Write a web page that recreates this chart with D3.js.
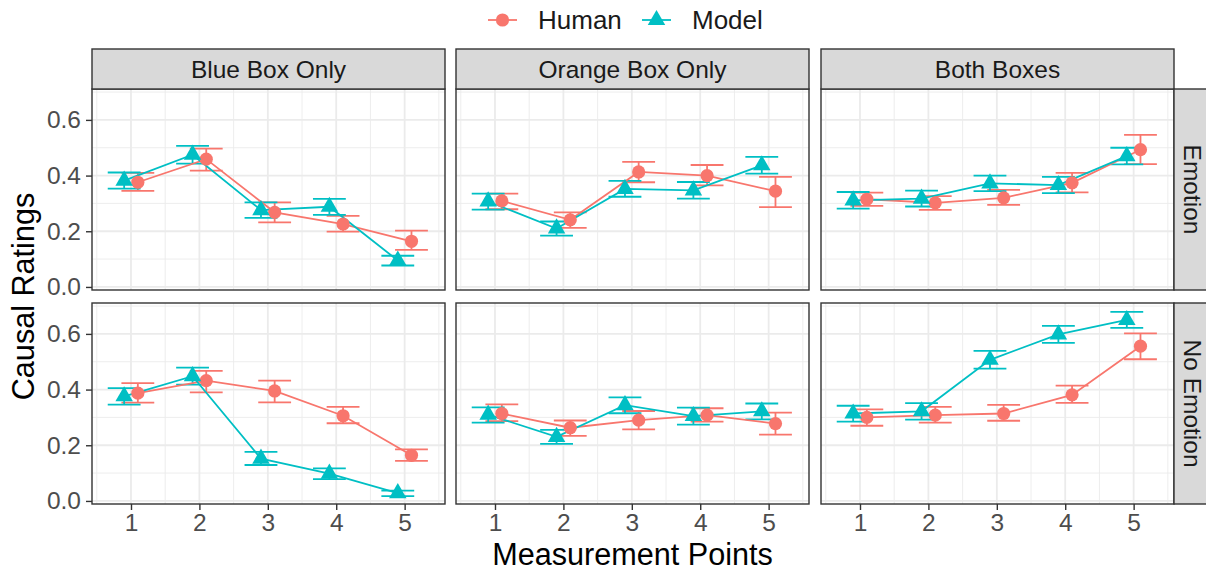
<!DOCTYPE html>
<meta charset="utf-8">
<html>

<head>
    <script src="https://d3js.org/d3.v7.min.js"></script>
    <style>
        body { margin: 0; background: #fff; }
        svg text { font-family: "Liberation Sans", Arial, sans-serif; }
    </style>
</head>

<body>
    <div id="my_dataviz"></div>

    <script>
        // facet labels and x categories
        const colFacets = ["Blue Box Only", "Orange Box Only", "Both Boxes"];
        const rowFacets = ["Emotion", "No Emotion"];
        const points = [1, 2, 3, 4, 5];
        const yTicks = [0.0, 0.2, 0.4, 0.6];
        const seriesNames = ["Human", "Model"];

        // panel order: Emotion (Blue, Orange, Both), No Emotion (Blue, Orange, Both)
        const humanMean = [
            [0.376, 0.459, 0.268, 0.226, 0.164],
            [0.309, 0.241, 0.413, 0.400, 0.344],
            [0.315, 0.302, 0.320, 0.374, 0.493],
            [0.387, 0.432, 0.395, 0.306, 0.164],
            [0.314, 0.263, 0.290, 0.308, 0.278],
            [0.300, 0.308, 0.314, 0.381, 0.556]
        ];
        const humanLo = [
            [0.345, 0.418, 0.232, 0.199, 0.133],
            [0.279, 0.212, 0.376, 0.365, 0.287],
            [0.291, 0.277, 0.295, 0.340, 0.441],
            [0.353, 0.390, 0.354, 0.279, 0.144],
            [0.287, 0.234, 0.257, 0.285, 0.238],
            [0.270, 0.281, 0.288, 0.352, 0.509]
        ];
        const humanHi = [
            [0.410, 0.497, 0.304, 0.255, 0.202],
            [0.335, 0.268, 0.449, 0.438, 0.395],
            [0.339, 0.326, 0.349, 0.410, 0.546],
            [0.423, 0.467, 0.432, 0.338, 0.185],
            [0.347, 0.289, 0.323, 0.333, 0.317],
            [0.329, 0.338, 0.345, 0.414, 0.602]
        ];
        const modelMean = [
            [0.382, 0.475, 0.276, 0.288, 0.095],
            [0.307, 0.210, 0.352, 0.347, 0.437],
            [0.311, 0.317, 0.372, 0.366, 0.470],
            [0.376, 0.448, 0.152, 0.098, 0.028],
            [0.310, 0.230, 0.344, 0.305, 0.322],
            [0.314, 0.322, 0.507, 0.598, 0.650]
        ];
        const modelLo = [
            [0.353, 0.443, 0.248, 0.259, 0.077],
            [0.278, 0.184, 0.324, 0.317, 0.407],
            [0.281, 0.289, 0.344, 0.337, 0.440],
            [0.346, 0.418, 0.129, 0.078, 0.017],
            [0.281, 0.205, 0.315, 0.274, 0.293],
            [0.285, 0.292, 0.475, 0.568, 0.622]
        ];
        const modelHi = [
            [0.411, 0.507, 0.304, 0.316, 0.112],
            [0.335, 0.235, 0.381, 0.377, 0.467],
            [0.341, 0.346, 0.400, 0.395, 0.500],
            [0.405, 0.479, 0.176, 0.117, 0.037],
            [0.336, 0.255, 0.372, 0.335, 0.350],
            [0.342, 0.351, 0.539, 0.629, 0.679]
        ];

        const width = 1206, height = 571;
        const panelLefts = [92, 456, 821], panelW = 353;
        const panelTops = [89, 303], panelH = 201;
        const stripH = 40, stripW = 40;

        const color = d3.scaleOrdinal().domain(seriesNames).range(["#F8766D", "#00BFC4"]);
        const dodge = { Human: 0.1, Model: -0.1 };

        const svg = d3.select("#my_dataviz").append("svg")
            .attr("width", width)
            .attr("height", height);

        const x = d3.scaleLinear().domain([0.43, 5.59]).range([0, panelW]);
        const y = d3.scaleLinear().domain([-0.011, 0.711]).range([panelH, 0]);

        const xMinor = [0.5, 1.5, 2.5, 3.5, 4.5, 5.5];
        const yMinor = [0.1, 0.3, 0.5, 0.7];

        const triangle = function (s) {
            const h = s * Math.sqrt(3) / 2;
            return `M0,${-h * 2 / 3}L${s / 2},${h / 3}L${-s / 2},${h / 3}Z`;
        };

        rowFacets.forEach(function (rowName, r) {
            colFacets.forEach(function (colName, c) {
                const idx = r * 3 + c;
                const g = svg.append("g")
                    .attr("transform", `translate(${panelLefts[c]},${panelTops[r]})`);

                // grid
                g.selectAll(".minx").data(xMinor).enter().append("line")
                    .attr("x1", d => x(d)).attr("x2", d => x(d))
                    .attr("y1", 0).attr("y2", panelH)
                    .attr("stroke", "#EBEBEB").attr("stroke-width", 0.9);
                g.selectAll(".miny").data(yMinor).enter().append("line")
                    .attr("y1", d => y(d)).attr("y2", d => y(d))
                    .attr("x1", 0).attr("x2", panelW)
                    .attr("stroke", "#EBEBEB").attr("stroke-width", 0.9);
                g.selectAll(".majx").data(points).enter().append("line")
                    .attr("x1", d => x(d)).attr("x2", d => x(d))
                    .attr("y1", 0).attr("y2", panelH)
                    .attr("stroke", "#EBEBEB").attr("stroke-width", 1.8);
                g.selectAll(".majy").data(yTicks).enter().append("line")
                    .attr("y1", d => y(d)).attr("y2", d => y(d))
                    .attr("x1", 0).attr("x2", panelW)
                    .attr("stroke", "#EBEBEB").attr("stroke-width", 1.8);

                const series = [
                    { name: "Human", mean: humanMean[idx], lo: humanLo[idx], hi: humanHi[idx] },
                    { name: "Model", mean: modelMean[idx], lo: modelLo[idx], hi: modelHi[idx] }
                ];

                // error bars
                series.forEach(function (s) {
                    const eb = g.append("g").attr("stroke", color(s.name)).attr("stroke-width", 1.8).attr("fill", "none");
                    points.forEach(function (p, i) {
                        const cx = x(p + dodge[s.name]);
                        const hw = x(p + 0.24) - x(p);
                        eb.append("line").attr("x1", cx).attr("x2", cx).attr("y1", y(s.lo[i])).attr("y2", y(s.hi[i]));
                        eb.append("line").attr("x1", cx - hw).attr("x2", cx + hw).attr("y1", y(s.lo[i])).attr("y2", y(s.lo[i]));
                        eb.append("line").attr("x1", cx - hw).attr("x2", cx + hw).attr("y1", y(s.hi[i])).attr("y2", y(s.hi[i]));
                    });
                });

                // lines
                series.forEach(function (s) {
                    const line = d3.line()
                        .x((d, i) => x(points[i] + dodge[s.name]))
                        .y(d => y(d));
                    g.append("path").datum(s.mean)
                        .attr("d", line)
                        .attr("fill", "none")
                        .attr("stroke", color(s.name))
                        .attr("stroke-width", 1.8);
                });

                // points
                series.forEach(function (s) {
                    s.mean.forEach(function (v, i) {
                        const px = x(points[i] + dodge[s.name]), py = y(v);
                        if (s.name === "Human") {
                            g.append("circle").attr("cx", px).attr("cy", py).attr("r", 6.6).attr("fill", color(s.name));
                        } else {
                            g.append("path").attr("d", triangle(17.5))
                                .attr("transform", `translate(${px},${py})`)
                                .attr("fill", color(s.name));
                        }
                    });
                });

                // panel border
                g.append("rect").attr("width", panelW).attr("height", panelH)
                    .attr("fill", "none").attr("stroke", "#333333").attr("stroke-width", 1.4);

                // top strips
                if (r === 0) {
                    g.append("rect").attr("y", -stripH).attr("width", panelW).attr("height", stripH)
                        .attr("fill", "#D9D9D9").attr("stroke", "#333333").attr("stroke-width", 1.4);
                    g.append("text").attr("x", panelW / 2).attr("y", -stripH / 2)
                        .attr("dy", "0.36em").attr("text-anchor", "middle")
                        .style("font-size", "24.5px").attr("fill", "#1A1A1A")
                        .text(colName);
                }

                // right strips
                if (c === 2) {
                    g.append("rect").attr("x", panelW).attr("width", stripW).attr("height", panelH)
                        .attr("fill", "#D9D9D9").attr("stroke", "#333333").attr("stroke-width", 1.4);
                    g.append("text")
                        .attr("transform", `translate(${panelW + 19},${panelH / 2}) rotate(90)`)
                        .attr("dy", "0.36em").attr("text-anchor", "middle")
                        .style("font-size", "24.5px").attr("fill", "#1A1A1A")
                        .text(rowName);
                }

                // y axis on left column
                if (c === 0) {
                    const ya = g.append("g").call(d3.axisLeft(y).tickValues(yTicks).tickFormat(d3.format(".1f")).tickSize(6).tickPadding(5));
                    ya.select(".domain").remove();
                    ya.selectAll(".tick line").attr("stroke", "#333333").attr("stroke-width", 1.4);
                    ya.selectAll(".tick text").attr("fill", "#4D4D4D").style("font-size", "24.5px")
                        .style("font-family", "'Liberation Sans', Arial, sans-serif");
                }

                // x axis on bottom row
                if (r === 1) {
                    const xa = g.append("g").attr("transform", `translate(0,${panelH})`)
                        .call(d3.axisBottom(x).tickValues(points).tickFormat(d3.format("d")).tickSize(6).tickPadding(4));
                    xa.select(".domain").remove();
                    xa.selectAll(".tick line").attr("stroke", "#333333").attr("stroke-width", 1.4);
                    xa.selectAll(".tick text").attr("fill", "#4D4D4D").style("font-size", "24.5px")
                        .style("font-family", "'Liberation Sans', Arial, sans-serif");
                }
            });
        });

        // axis titles
        svg.append("text")
            .attr("x", (panelLefts[1] + panelLefts[1] + panelW) / 2)
            .attr("y", 565)
            .attr("text-anchor", "middle")
            .style("font-size", "30.6px")
            .text("Measurement Points");

        svg.append("text")
            .attr("transform", `translate(34,${(panelTops[0] + panelTops[1] + panelH) / 2}) rotate(-90)`)
            .attr("text-anchor", "middle")
            .style("font-size", "30.6px")
            .text("Causal Ratings");

        // legend
        const legendX = [488, 642];
        const legend = svg.append("g").selectAll("g")
            .data(seriesNames).enter().append("g")
            .attr("transform", (d, i) => `translate(${legendX[i]},20)`);

        legend.append("line")
            .attr("x1", 0).attr("x2", 29)
            .attr("stroke", d => color(d)).attr("stroke-width", 1.8);
        legend.append("path")
            .attr("d", d => d === "Human" ? d3.symbol(d3.symbolCircle, Math.PI * 6.6 * 6.6)() : triangle(17.5))
            .attr("transform", "translate(14.5,0)")
            .attr("fill", d => color(d));
        legend.append("text")
            .attr("x", 50)
            .attr("dy", "0.36em")
            .style("font-size", "26px")
            .attr("fill", "#1A1A1A")
            .text(d => d);
    </script>
</body>

</html>
